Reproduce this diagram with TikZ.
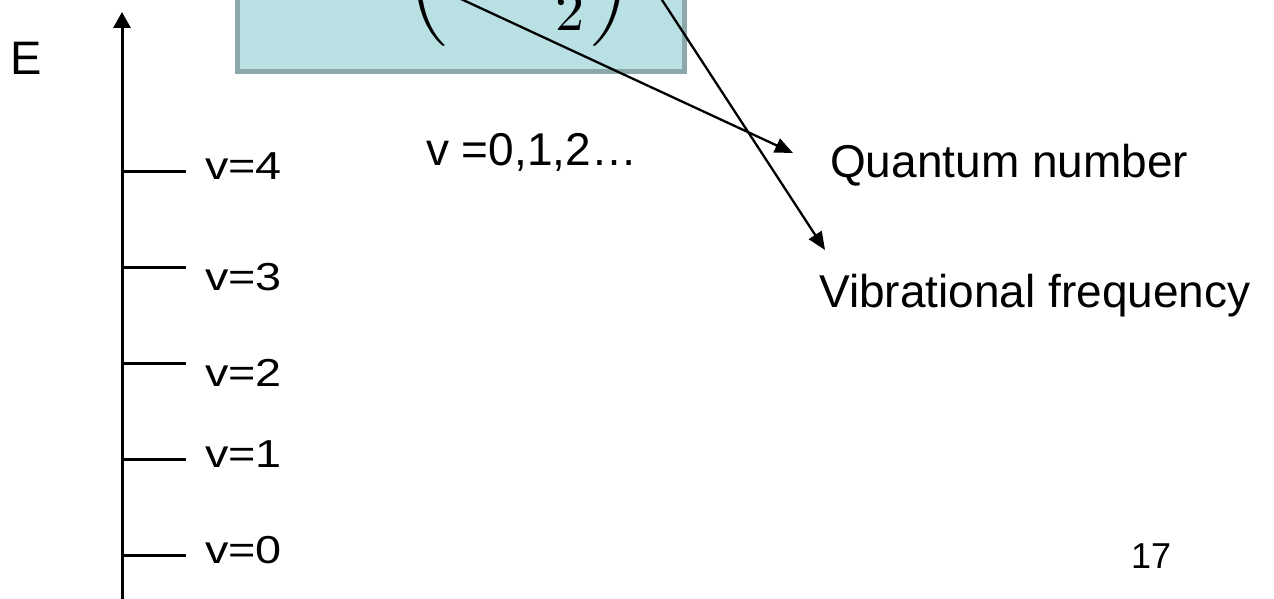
\documentclass[tikz,border=0pt]{standalone}
\usepackage{fontspec}
\setmainfont{Liberation Sans}
\usetikzlibrary{arrows.meta}
\definecolor{boxfill}{RGB}{185,224,227}
\definecolor{boxline}{RGB}{141,168,170}
\tikzset{
  lbl/.style={inner sep=0pt, anchor=base west, font=\fontsize{46}{55}\selectfont},
  vlbl/.style={inner sep=0pt, anchor=base west, font=\fontsize{39}{46}\selectfont, xscale=1.2},
  level/.style={line width=3pt},
  axisline/.style={line width=3pt, -{Triangle[length=16pt,width=17pt]}},
  ptr/.style={line width=2.3pt, -{Triangle[length=18pt,width=15pt]}},
}
\begin{document}
\begin{tikzpicture}[x=1pt,y=-1pt]
\useasboundingbox (0,0) rectangle (1274,599);
% formula box
\node[draw=boxline, fill=boxfill, line width=5pt, inner sep=0pt,
      minimum width=447pt, minimum height=105pt, anchor=south west] (box) at (234.5,74.5) {};
\begin{scope}
  \clip (box.south west) rectangle (box.north east);
  \node[inner sep=0pt, anchor=base west, scale=5.8] (eq) at (280,-9)
    {$\displaystyle E=\left(v+\frac{1}{2}\right)h\nu$};
\end{scope}
% energy axis
\coordinate (axb) at (122,599);
\coordinate (axt) at (122,12);
\draw[axisline] (axb) -- (axt);
\node[inner sep=0pt, anchor=base west, font=\fontsize{47}{56}\selectfont] (E) at (10,75) {E};
% levels
\foreach \n/\ly/\by in {4/171/179, 3/267/290, 2/363/386, 1/459/467, 0/555/563} {
  \coordinate (l\n a) at (122,\ly);
  \coordinate (l\n b) at (186,\ly);
  \draw[level] (l\n a) -- (l\n b);
  \node[vlbl] (v\n) at (205,\by) {v=\n};
}
% texts
\node[lbl] (vals) at (426,165) {v =0,1,2\ldots};
\node[lbl] (qn) at (830,177) {Quantum number};
\node[lbl] (vf) at (819,307) {Vibrational frequency};
\node[inner sep=0pt, anchor=base west, font=\fontsize{36}{43}\selectfont] (page) at (1131,568) {17};
% pointers
\coordinate (s1) at (420,-20);
\coordinate (t1) at (793,153);
\coordinate (s2) at (649,-20);
\coordinate (t2) at (825,250);
\draw[ptr] (s1) -- (t1);
\draw[ptr] (s2) -- (t2);
\end{tikzpicture}
\end{document}
